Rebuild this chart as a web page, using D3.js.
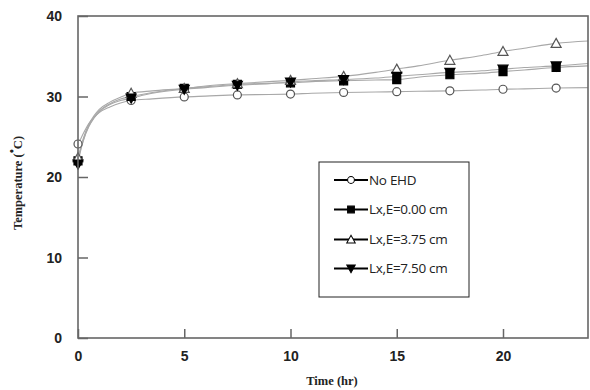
<!DOCTYPE html>
<html>
<head>
<meta charset="utf-8">
<script src="https://cdn.jsdelivr.net/npm/d3@7"></script>
<style>
  body { margin: 0; background: #fff; }
</style>
</head>
<body>
<div id="chart"></div>
<script>
// data
const lineTimes = [0, 0.1, 0.25, 0.5, 0.75, 1, 1.5, 2, 2.5, 3.5, 5, 6, 7.5, 9, 10, 11, 12.5, 14, 15, 16, 17.5, 19, 20, 21, 22.5, 24];
const markerTimes = [0, 2.5, 5, 7.5, 10, 12.5, 15, 17.5, 20, 22.5];
const noEhd = [24.1, 24.6, 25.4, 26.6, 27.4, 28.0, 28.7, 29.2, 29.5, 29.7, 29.95, 30.05, 30.2, 30.25, 30.3, 30.4, 30.5, 30.55, 30.6, 30.65, 30.7, 30.8, 30.9, 30.95, 31.05, 31.1];
const lx000 = [22.0, 23.2, 24.6, 26.3, 27.4, 28.2, 29.1, 29.7, 30.0, 30.5, 31.0, 31.2, 31.5, 31.65, 31.7, 31.85, 31.95, 32.05, 32.1, 32.4, 32.7, 32.9, 33.1, 33.3, 33.6, 33.8];
const lx375 = [22.4, 23.4, 24.8, 26.5, 27.6, 28.4, 29.3, 29.9, 30.4, 30.7, 31.0, 31.3, 31.6, 31.85, 32.0, 32.2, 32.5, 33.0, 33.4, 33.8, 34.5, 35.1, 35.6, 36.0, 36.6, 36.9];
const lx750 = [21.6, 23.0, 24.5, 26.2, 27.3, 28.1, 29.0, 29.5, 29.8, 30.4, 30.9, 31.1, 31.4, 31.6, 31.8, 31.95, 32.1, 32.3, 32.5, 32.7, 33.0, 33.2, 33.4, 33.6, 33.8, 34.1];
const seriesNames = ['No EHD', 'Lx,E=0.00 cm', 'Lx,E=3.75 cm', 'Lx,E=7.50 cm'];
const xTicks = [0, 5, 10, 15, 20];
const yTicks = [0, 10, 20, 30, 40];

const margin = { top: 16, right: 2, bottom: 52, left: 78 },
  width = 590 - margin.left - margin.right,
  height = 390 - margin.top - margin.bottom;

const svg = d3.select('#chart')
  .append('svg')
  .attr('width', 590)
  .attr('height', 390)
  .append('g')
  .attr('transform', `translate(${margin.left}, ${margin.top})`);

const x = d3.scaleLinear().domain([0, 24]).range([0, width]);
const y = d3.scaleLinear().domain([0, 40]).range([height, 0]);

const series = [
  { name: seriesNames[0], values: noEhd, shape: 'circle' },
  { name: seriesNames[1], values: lx000, shape: 'square' },
  { name: seriesNames[2], values: lx375, shape: 'triangle' },
  { name: seriesNames[3], values: lx750, shape: 'down' },
];

// marker symbols
function markerPath(shape) {
  if (shape === 'circle') return d3.symbol(d3.symbolCircle, 50)();
  if (shape === 'square') return d3.symbol(d3.symbolSquare, 64)();
  if (shape === 'triangle') return 'M0,-5L5,4L-5,4Z';
  return 'M0,5L5,-4L-5,-4Z';
}
function markerFill(shape) {
  return (shape === 'square' || shape === 'down') ? '#000' : '#fff';
}

// lines
const line = d3.line()
  .x((d, i) => x(lineTimes[i]))
  .y(d => y(d))
  .curve(d3.curveMonotoneX);

series.forEach(s => {
  svg.append('path')
    .attr('d', line(s.values))
    .attr('fill', 'none')
    .attr('stroke', '#a8a8a8')
    .attr('stroke-width', 1.1);
});

// markers
series.forEach(s => {
  const pts = markerTimes.map(t => ({ t: t, v: s.values[lineTimes.indexOf(t)] }));
  svg.selectAll(null)
    .data(pts)
    .join('path')
    .attr('d', markerPath(s.shape))
    .attr('transform', d => `translate(${x(d.t)}, ${y(d.v)})`)
    .attr('fill', markerFill(s.shape))
    .attr('stroke', s.shape === 'circle' || s.shape === 'triangle' ? '#555' : '#000')
    .attr('stroke-width', 1.2);
});

// frame
svg.append('rect')
  .attr('x', 0).attr('y', 0)
  .attr('width', width).attr('height', height)
  .attr('fill', 'none')
  .attr('stroke', '#666')
  .attr('stroke-width', 1.6);

// axes with inward ticks
const xAxis = svg.append('g')
  .attr('transform', `translate(0, ${height})`)
  .call(d3.axisBottom(x).tickValues(xTicks).tickSizeInner(-9).tickSizeOuter(0).tickPadding(13));
const yAxis = svg.append('g')
  .call(d3.axisLeft(y).tickValues(yTicks).tickSizeInner(-10).tickSizeOuter(0).tickPadding(16));

[xAxis, yAxis].forEach(a => {
  a.select('.domain').remove();
  a.selectAll('line').attr('stroke', '#666').attr('stroke-width', 1.5);
  a.selectAll('text')
    .style('font-family', 'Liberation Sans, Arial, sans-serif')
    .style('font-weight', 'bold')
    .style('font-size', '14px')
    .attr('fill', '#222');
});
yAxis.selectAll('text').attr('dy', '0.35em');

// axis titles
svg.append('text')
  .attr('x', width / 2 - 1)
  .attr('y', height + 47)
  .attr('text-anchor', 'middle')
  .style('font-family', 'Liberation Serif, Times New Roman, serif')
  .style('font-weight', 'bold')
  .style('font-size', '12.5px')
  .attr('fill', '#222')
  .text('Time (hr)');

const yTitle = svg.append('text')
  .attr('transform', `translate(${-56}, ${167}) rotate(-90)`)
  .attr('text-anchor', 'middle')
  .style('font-family', 'Liberation Serif, Times New Roman, serif')
  .style('font-weight', 'bold')
  .style('font-size', '12.5px')
  .attr('fill', '#222');
yTitle.append('tspan').text('Temperature (');
yTitle.append('tspan').attr('dy', '-6').style('font-size', '12px').text('•');
yTitle.append('tspan').attr('dy', '6').text('C)');

// legend
const legend = svg.append('g').attr('transform', `translate(${319 - margin.left}, ${162 - margin.top})`);
legend.append('rect')
  .attr('width', 150).attr('height', 135)
  .attr('fill', '#fff')
  .attr('stroke', '#222')
  .attr('stroke-width', 1);

const legendRows = [18, 47.5, 77.5, 106.5];
series.forEach((s, i) => {
  const g = legend.append('g').attr('transform', `translate(0, ${legendRows[i]})`);
  g.append('line')
    .attr('x1', 15).attr('x2', 49)
    .attr('stroke', '#000').attr('stroke-width', 2);
  g.append('path')
    .attr('d', markerPath(s.shape))
    .attr('transform', 'translate(32, 0) scale(0.85)')
    .attr('fill', markerFill(s.shape))
    .attr('stroke', '#000')
    .attr('stroke-width', 1.2);
  g.append('text')
    .attr('x', 50)
    .attr('dy', '0.35em')
    .style('font-family', 'Open Sans, Noto Sans, sans-serif')
    .style('font-size', '13.5px')
    .style('letter-spacing', '-0.3px')
    .attr('fill', '#222')
    .text(s.name);
});
</script>
</body>
</html>
